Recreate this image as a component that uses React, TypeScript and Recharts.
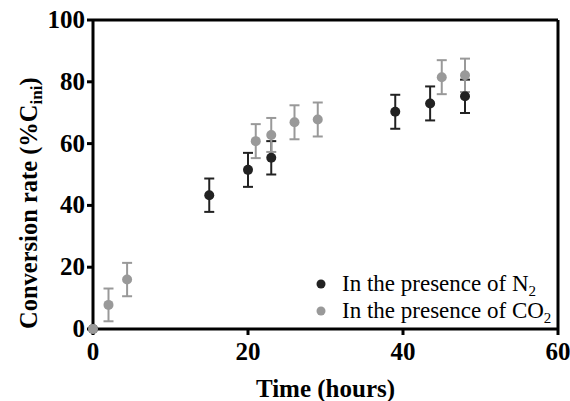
import React from 'react';
import { ScatterChart, Scatter, XAxis, YAxis, ErrorBar, ReferenceLine, Legend } from 'recharts';

// N2 atmosphere
const n2Time = [0, 15, 20, 23, 39, 43.5, 48];
const n2Rate = [0, 43.3, 51.5, 55.4, 70.3, 73.0, 75.3];
const n2Err = [0, 5.4, 5.5, 5.4, 5.5, 5.5, 5.4];

// CO2 atmosphere
const co2Time = [0, 2, 4.4, 21, 23, 26, 29, 45, 48];
const co2Rate = [0, 7.8, 16.0, 60.8, 62.8, 66.9, 67.8, 81.5, 82.1];
const co2Err = [0, 5.3, 5.4, 5.5, 5.5, 5.5, 5.5, 5.5, 5.4];

const xTicks = [0, 20, 40, 60];
const yTicks = [0, 20, 40, 60, 80, 100];

const N2_COLOR = '#222222';
const CO2_COLOR = '#999999';
const FONT = '"Liberation Serif", "Times New Roman", serif';

const n2Data = n2Time.map((t, i) => ({ t, rate: n2Rate[i], err: n2Err[i] }));
const co2Data = co2Time.map((t, i) => ({ t, rate: co2Rate[i], err: co2Err[i] }));

function dot(color: string) {
  return (props: any) => <circle cx={props.cx} cy={props.cy} r={5} fill={color} />;
}

function XTick({ x, y, payload }: any) {
  return (
    <text x={x} y={y + 23} textAnchor="middle" fontFamily={FONT} fontWeight="bold" fontSize={25} fill="#000">
      {payload.value}
    </text>
  );
}

function YTick({ x, y, payload }: any) {
  return (
    <text x={x} y={y} dy={8} textAnchor="end" fontFamily={FONT} fontWeight="bold" fontSize={25} fill="#000">
      {payload.value}
    </text>
  );
}

function YTitle() {
  // starts at the bottom of the plot and reads upward, baseline on x=37
  const cx = 37;
  const cy = 329;
  return (
    <text
      x={cx}
      y={cy}
      transform={`rotate(-90 ${cx} ${cy})`}
      textAnchor="start"
      fontFamily={FONT}
      fontWeight="bold"
      fontSize={24.5}
      fill="#000"
    >
      Conversion rate (%C
      <tspan fontSize={17} dy={5}>ini</tspan>
      <tspan dy={-5}>)</tspan>
    </text>
  );
}

function LegendBox() {
  const rows = [
    { color: N2_COLOR, sub: '2', base: 'N' },
    { color: CO2_COLOR, sub: '2', base: 'CO' },
  ];
  return (
    <div style={{ fontFamily: FONT, fontSize: 23, color: '#000', lineHeight: '27px' }}>
      {rows.map((r) => (
        <div key={r.base} style={{ display: 'flex', alignItems: 'center', height: 27, whiteSpace: 'nowrap' }}>
          <svg width={12} height={12} style={{ marginRight: 15 }}>
            <circle cx={6} cy={6} r={4.5} fill={r.color} />
          </svg>
          <span>
            In the presence of {r.base}
            <span style={{ fontSize: 15, lineHeight: '15px', position: 'relative', top: 5 }}>{r.sub}</span>
          </span>
        </div>
      ))}
    </div>
  );
}

export default function App() {
  return (
    <div style={{ width: 570, height: 401, background: '#fff', fontFamily: FONT }}>
      <style>{'body{margin:0}'}</style>
      <ScatterChart width={570} height={401} margin={{ top: 20, right: 12, bottom: 0, left: 0 }}>
        <XAxis
          type="number"
          dataKey="t"
          domain={[0, 60]}
          ticks={xTicks}
          axisLine={{ stroke: '#000', strokeWidth: 3 }}
          tickLine={{ stroke: '#000', strokeWidth: 3 }}
          tickSize={6}
          tick={<XTick />}
          height={72}
          label={{
            value: 'Time (hours)',
            position: 'insideBottom',
            offset: 4,
            style: { fontSize: 25, fontWeight: 'bold', fill: '#000', fontFamily: FONT },
          }}
        />
        <YAxis
          type="number"
          dataKey="rate"
          domain={[0, 100]}
          ticks={yTicks}
          axisLine={{ stroke: '#000', strokeWidth: 3 }}
          tickLine={{ stroke: '#000', strokeWidth: 3 }}
          tickSize={6}
          tick={<YTick />}
          width={93}
          label={<YTitle />}
        />
        <ReferenceLine y={100} stroke="#000" strokeWidth={3} />
        <ReferenceLine x={60} stroke="#000" strokeWidth={3} />
        <Legend
          layout="vertical"
          verticalAlign="middle"
          align="center"
          content={<LegendBox />}
          wrapperStyle={{ left: 315, top: 270, width: 'auto' }}
        />
        <Scatter name="N2" data={n2Data} fill={N2_COLOR} shape={dot(N2_COLOR)} isAnimationActive={false}>
          <ErrorBar dataKey="err" direction="y" width={5} stroke={N2_COLOR} strokeWidth={2} />
        </Scatter>
        <Scatter name="CO2" data={co2Data} fill={CO2_COLOR} shape={dot(CO2_COLOR)} isAnimationActive={false}>
          <ErrorBar dataKey="err" direction="y" width={5} stroke={CO2_COLOR} strokeWidth={2} />
        </Scatter>
      </ScatterChart>
    </div>
  );
}
